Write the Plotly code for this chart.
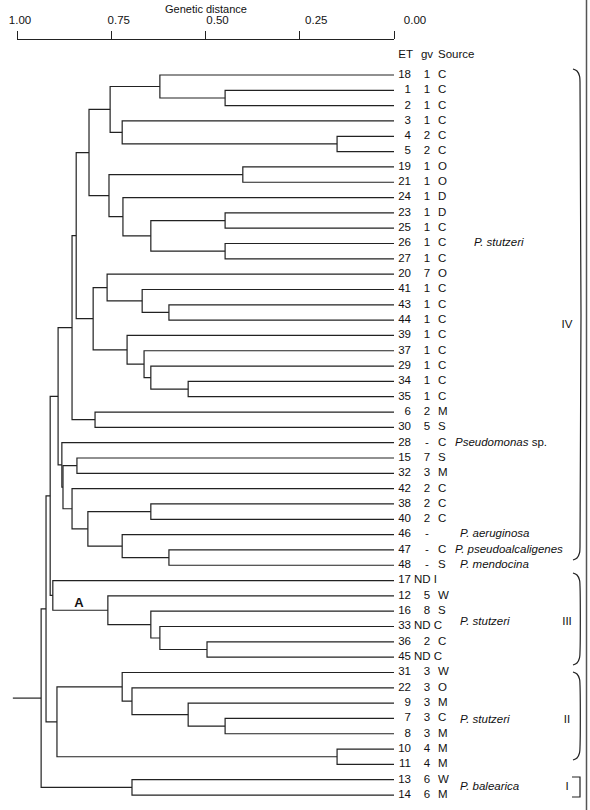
import plotly.graph_objects as go

# ---------------- data ----------------
leaf_et = ["18", "1", "2", "3", "4", "5", "19", "21", "24", "23", "25", "26", "27",
           "20", "41", "43", "44", "39", "37", "29", "34", "35", "6", "30", "28",
           "15", "32", "42", "38", "40", "46", "47", "48", "17", "12", "16", "33",
           "36", "45", "31", "22", "9", "7", "8", "10", "11", "13", "14"]
leaf_gv = ["1", "1", "1", "1", "2", "2", "1", "1", "1", "1", "1", "1", "1",
           "7", "1", "1", "1", "1", "1", "1", "1", "1", "2", "5", "-",
           "7", "3", "2", "2", "2", "-", "-", "-", "ND", "5", "8", "ND",
           "2", "ND", "3", "3", "3", "3", "3", "4", "4", "6", "6"]
leaf_src = ["C", "C", "C", "C", "C", "C", "O", "O", "D", "D", "C", "C", "C",
            "O", "C", "C", "C", "C", "C", "C", "C", "C", "M", "S", "C",
            "S", "M", "C", "C", "C", "", "C", "S", "I", "W", "S", "C",
            "C", "C", "W", "O", "M", "C", "M", "M", "M", "W", "M"]

# internal nodes: name, left child, right child, genetic distance of the join
node_names = ["n1_2", "n18", "n4_5", "n3", "nA", "n19_21", "n23_25", "n26_27", "nB",
              "n24", "nC", "nD", "n43_44", "n41", "n20", "n34_35", "n29", "n37",
              "n39", "nE", "nF", "n6_30", "nG", "n15_32", "n38_40", "n47_48", "n46",
              "nH", "n42", "nI", "n28", "nJ", "n36_45", "n33", "n16", "n12", "nIII",
              "nK", "n7_8", "n9", "n22", "n31", "n10_11", "nII", "nL", "n13_14", "root"]
node_left = ["1", "18", "4", "3", "n18", "19", "23", "26", "n23_25",
             "24", "n19_21", "nA", "43", "41", "20", "34", "29", "37",
             "39", "n20", "nD", "6", "nF", "15", "38", "47", "46",
             "n38_40", "42", "n15_32", "28", "nG", "36", "33", "16", "12", "17",
             "nJ", "7", "9", "22", "31", "10", "n31", "nK", "13", "nL"]
node_right = ["2", "n1_2", "5", "n4_5", "n3", "21", "25", "27", "n26_27",
              "nB", "n24", "nC", "44", "n43_44", "n41", "35", "n34_35", "n29",
              "n37", "n39", "nE", "30", "n6_30", "32", "40", "48", "n47_48",
              "n46", "nH", "n42", "nI", "n28", "45", "n36_45", "n33", "n16", "n12",
              "nIII", "8", "n7_8", "n9", "n22", "11", "n10_11", "nII", "14", "n13_14"]
node_dist = [0.448, 0.621, 0.151, 0.721, 0.753, 0.401, 0.448, 0.448, 0.645,
             0.719, 0.756, 0.809, 0.597, 0.668, 0.761, 0.546, 0.645, 0.663,
             0.708, 0.798, 0.843, 0.793, 0.854, 0.841, 0.645, 0.597, 0.721,
             0.812, 0.854, 0.878, 0.881, 0.891, 0.496, 0.621, 0.645, 0.759, 0.905,
             0.912, 0.448, 0.546, 0.695, 0.721, 0.151, 0.894, 0.923, 0.695, 0.936]
root_stub = 1.011

axis_ticks = [1.0, 0.75, 0.5, 0.25, 0.0]
axis_ticktext = ["1.00", "0.75", "0.50", "0.25", "0.00"]

species_text = ["<i>P. stutzeri</i>", "<i>Pseudomonas</i> sp.", "<i>P. aeruginosa</i>",
                "<i>P. pseudoalcaligenes</i>", "<i>P. mendocina</i>", "<i>P. stutzeri</i>",
                "<i>P. stutzeri</i>", "<i>P. balearica</i>"]
species_row = [11, 24, 30, 31, 32, 35.7, 42.1, 46.5]
cluster_names = ["IV", "III", "II", "I"]
cluster_rows = [16.3, 35.7, 42.1, 46.5]

# ---------------- geometry helpers ----------------
W, H = 590, 810
X0PX, PXU = 394.0, 377.0           # px of distance 0, px per unit distance
Y0PX, PXROW = 75.0, 15.32          # px of first leaf, px per leaf row


def dx(px):
    return (X0PX - px) / PXU


def ry(py):
    return (py - Y0PX) / PXROW


# ---------------- tree segments ----------------
pos = {}
for i, et in enumerate(leaf_et):
    pos[et] = (0.0, float(i))
xs, ys = [], []
for name, l, r, d in zip(node_names, node_left, node_right, node_dist):
    (xl, yl), (xr, yr) = pos[l], pos[r]
    xs += [xl, d, d, xr, None]
    ys += [yl, yl, yr, yr, None]
    pos[name] = (d, (yl + yr) / 2)
rx, ryy = pos["root"]
xs += [rx, root_stub, None]
ys += [ryy, ryy, None]

LINE = "#222222"
FONT = "Liberation Sans, Arial, sans-serif"
fig = go.Figure()
fig.add_trace(go.Scatter(x=xs, y=ys, mode="lines", line=dict(color=LINE, width=1.2),
                         hoverinfo="skip", showlegend=False, cliponaxis=False))

rows = list(range(len(leaf_et)))
tf = dict(family=FONT, size=11.5, color="#111")
# ET numbers (right aligned)
fig.add_trace(go.Scatter(x=[dx(411)] * len(rows), y=rows, mode="text", text=leaf_et,
                         textposition="middle left", textfont=tf, hoverinfo="skip",
                         showlegend=False))
# gv + source
gv_t, gv_y, src_t, src_y, nd_t, nd_y = [], [], [], [], [], []
for i, (g, s) in enumerate(zip(leaf_gv, leaf_src)):
    if g == "ND":
        nd_t.append(g + " " + s)
        nd_y.append(i)
    else:
        gv_t.append(g)
        gv_y.append(i)
        src_t.append(s)
        src_y.append(i)
fig.add_trace(go.Scatter(x=[dx(427)] * len(gv_t), y=gv_y, mode="text", text=gv_t,
                         textposition="middle center", textfont=tf, hoverinfo="skip",
                         showlegend=False))
fig.add_trace(go.Scatter(x=[dx(438)] * len(src_t), y=src_y, mode="text", text=src_t,
                         textposition="middle right", textfont=tf, hoverinfo="skip",
                         showlegend=False))
fig.add_trace(go.Scatter(x=[dx(414)] * len(nd_t), y=nd_y, mode="text", text=nd_t,
                         textposition="middle right", textfont=tf, hoverinfo="skip",
                         showlegend=False))
# header
fig.add_trace(go.Scatter(x=[dx(413), dx(427), dx(438)], y=[ry(55)] * 3, mode="text",
                         text=["ET", "gv", "Source"],
                         textposition=["middle left", "middle center", "middle right"],
                         textfont=tf, hoverinfo="skip", showlegend=False))
# species labels
sp_x = [dx(474)] + [dx(455), dx(460), dx(455), dx(460)] + [dx(460)] * 3
fig.add_trace(go.Scatter(x=sp_x, y=species_row, mode="text", text=species_text,
                         textposition="middle right", textfont=tf, hoverinfo="skip",
                         showlegend=False))
# cluster labels
fig.add_trace(go.Scatter(x=[dx(567)] * 4, y=cluster_rows, mode="text", text=cluster_names,
                         textposition="middle center", textfont=tf, hoverinfo="skip",
                         showlegend=False))
# node label A
fig.add_trace(go.Scatter(x=[dx(79)], y=[ry(604)], mode="text", text=["<b>A</b>"],
                         textposition="middle center",
                         textfont=dict(family=FONT, size=13, color="#111"),
                         hoverinfo="skip", showlegend=False))
# dummy traces for the scale-bar axes
for ax in ["x2", "x3"]:
    fig.add_trace(go.Scatter(x=[1.0, 0.0], y=[0, 0], xaxis=ax, yaxis="y2", mode="lines",
                             line=dict(width=0), hoverinfo="skip", showlegend=False))

# ---------------- braces (drawn in data coordinates) ----------------
for top, bot in [(69, 560), (573, 665), (672, 760)]:
    bx = [dx(573), dx(577), dx(579.5), dx(580), dx(580), dx(579.5), dx(577), dx(573)]
    by = [ry(top), ry(top + 2), ry(top + 7), ry(top + 13), ry(bot - 13), ry(bot - 7),
          ry(bot - 2), ry(bot)]
    fig.add_trace(go.Scatter(x=bx, y=by, mode="lines",
                             line=dict(color=LINE, width=1.2, shape="spline"),
                             hoverinfo="skip", showlegend=False, cliponaxis=False))
# square bracket for cluster I
fig.add_trace(go.Scatter(x=[dx(572), dx(580), dx(580), dx(572)],
                         y=[ry(777), ry(777), ry(797), ry(797)], mode="lines",
                         line=dict(color=LINE, width=1.2), hoverinfo="skip",
                         showlegend=False, cliponaxis=False))
# scan edge line at the right
fig.add_trace(go.Scatter(x=[dx(586.5), dx(586.5)], y=[ry(0), ry(H)], mode="lines",
                         line=dict(color="#555", width=1.5), hoverinfo="skip",
                         showlegend=False, cliponaxis=False))

fig.update_layout(
    width=W, height=H, autosize=False, showlegend=False,
    margin=dict(l=0, r=0, t=0, b=0, pad=0, autoexpand=False),
    paper_bgcolor="white", plot_bgcolor="rgba(0,0,0,0)",
    xaxis=dict(range=[dx(0), dx(W)], visible=False, fixedrange=True, domain=[0, 1],
               automargin=False),
    yaxis=dict(range=[ry(H), ry(0)], visible=False, fixedrange=True, domain=[0, 1],
               automargin=False),
    # scale bar: line + ticks
    xaxis2=dict(domain=[17 / W, 394 / W], range=[1.0, 0.0], anchor="y2",
                side="top", showline=True, linecolor=LINE, linewidth=1,
                ticks="outside", ticklen=8, tickcolor=LINE, tickvals=axis_ticks,
                showticklabels=False, showgrid=False, zeroline=False, fixedrange=True,
                automargin=False),
    # scale bar: tick labels (spread slightly wider, as in the original print)
    xaxis3=dict(domain=[20 / W, 415 / W], range=[1.0, 0.0], anchor="y2",
                side="top", showline=False, ticks="outside", ticklen=10,
                tickcolor="rgba(0,0,0,0)", tickvals=axis_ticks, ticktext=axis_ticktext,
                showgrid=False, zeroline=False, fixedrange=True, automargin=False,
                tickfont=dict(family=FONT, size=11.5, color="#111")),
    yaxis2=dict(domain=[1 - 41 / H, 1 - 40 / H], visible=False, automargin=False,
                fixedrange=True, range=[0, 1], anchor="x2"),
    annotations=[dict(text="Genetic distance", xref="paper", yref="paper",
                      x=205.5 / W, y=1 - 9 / H, xanchor="center", yanchor="middle",
                      showarrow=False, font=dict(family=FONT, size=11, color="#111"))],
    font=dict(family=FONT),
)

fig.write_html("out.html", config={"displayModeBar": False},
               post_script="document.body.style.margin='0';"
                           "document.body.style.overflow='hidden';")
